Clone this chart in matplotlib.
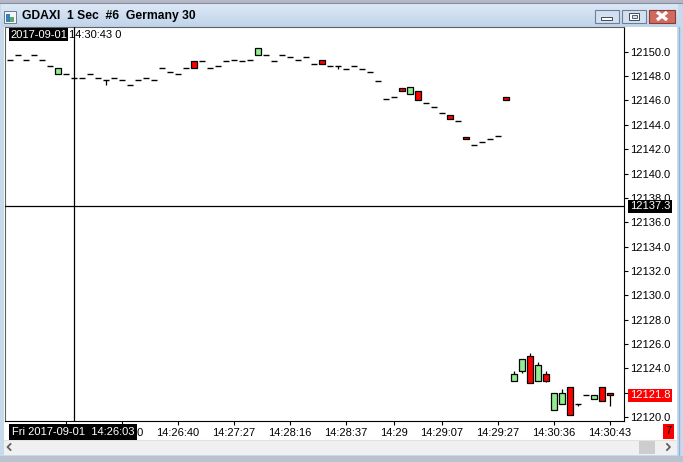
import matplotlib
matplotlib.use("Agg")
import matplotlib.pyplot as plt
from matplotlib.patches import Rectangle
from matplotlib.transforms import blended_transform_factory
from matplotlib.colors import LinearSegmentedColormap
import numpy as np

plt.rcParams['font.family'] = ['Liberation Sans', 'DejaVu Sans']

# ---------------- data (1-second candles) ----------------
opens = [12149.3, 12149.7, 12149.3, 12149.7, 12149.3, 12148.8, 12148.2, 12148.2, 12147.8, 12147.8,
         12148.2, 12147.8, 12147.7, 12147.8, 12147.7, 12147.3, 12147.7, 12147.8, 12147.7, 12148.7,
         12148.3, 12148.2, 12148.7, 12149.2, 12149.2, 12148.7, 12148.8, 12149.2, 12149.3, 12149.2,
         12149.3, 12149.7, 12149.7, 12149.2, 12149.7, 12149.6, 12149.3, 12149.6, 12149.0, 12149.3,
         12148.8, 12148.8, 12148.6, 12148.8, 12148.6, 12148.3, 12147.6, 12146.1, 12146.3, 12147.0,
         12146.5, 12146.8, 12145.8, 12145.5, 12145.0, 12144.8, 12144.3, 12143.0, 12142.3, 12142.6,
         12142.8, 12143.1, 12146.3, 12123.0, 12123.8, 12125.0, 12123.0, 12123.5, 12120.6, 12121.1,
         12122.5, 12121.1, 12121.8, 12121.5, 12122.5, 12122.0]
closes = [12149.3, 12149.7, 12149.3, 12149.7, 12149.3, 12148.8, 12148.7, 12148.2, 12147.8, 12147.8,
          12148.2, 12147.8, 12147.7, 12147.8, 12147.7, 12147.3, 12147.7, 12147.8, 12147.7, 12148.7,
          12148.3, 12148.2, 12148.7, 12148.7, 12149.2, 12148.7, 12148.8, 12149.2, 12149.3, 12149.2,
          12149.3, 12150.3, 12149.7, 12149.2, 12149.7, 12149.6, 12149.3, 12149.6, 12149.0, 12149.0,
          12148.8, 12148.8, 12148.6, 12148.8, 12148.6, 12148.3, 12147.6, 12146.1, 12146.3, 12146.8,
          12147.1, 12146.0, 12145.8, 12145.5, 12145.0, 12144.5, 12144.3, 12142.8, 12142.3, 12142.6,
          12142.8, 12143.1, 12146.0, 12123.5, 12124.8, 12122.8, 12124.3, 12123.0, 12122.0, 12122.0,
          12120.2, 12121.1, 12121.8, 12121.8, 12121.3, 12121.8]
highs = [max(o, c) for o, c in zip(opens, closes)]
lows = [min(o, c) for o, c in zip(opens, closes)]
# explicit wicks
high_overrides = {63: 12123.8, 65: 12125.3, 66: 12124.5, 67: 12123.8, 69: 12122.3}
low_overrides = {12: 12147.3, 41: 12148.6, 64: 12123.6, 67: 12122.9, 71: 12120.9, 75: 12120.9}
for k, v in high_overrides.items():
    highs[k] = v
for k, v in low_overrides.items():
    lows[k] = v

xtick_pos = [7, 14, 21, 28, 35, 42, 48, 54, 61, 68, 75]
xtick_labels = ["", "14:26:10", "14:26:40", "14:27:27", "14:28:16", "14:28:37",
                "14:29", "14:29:07", "14:29:27", "14:30:36", "14:30:43"]
price_ticks = [12120 + 2 * k for k in range(16)]
crosshair_index = 8
crosshair_price = 12137.3
last_price = 12121.8

# ---------------- figure & window chrome ----------------
W, H = 683, 462
fig = plt.figure(figsize=(W / 100, H / 100), dpi=100)
bg = fig.add_axes([0, 0, 1, 1])
bg.set_xlim(0, W)
bg.set_ylim(H, 0)
bg.axis('off')

FONT = 8

# outer frame
bg.add_patch(Rectangle((0, 0), W, H, fc='#c9d9ec', ec='none'))
bg.add_patch(Rectangle((0, 0), W, 3, fc='#b7b7c4', ec='none'))
bg.plot([0, W], [3, 3], color='#8090a8', lw=0.8)
# title bar gradient
grad = np.linspace(0, 1, 50).reshape(-1, 1)
cm = LinearSegmentedColormap.from_list('tb', ['#dfeaf7', '#bfd3ea'])
bg.imshow(grad, cmap=cm, extent=[1, 678, 27, 3.5], aspect='auto', zorder=1)
# app icon
bg.add_patch(Rectangle((4, 11), 12, 12, fc='#f4f4f4', ec='#6a7a90', lw=0.7, zorder=2))
bg.add_patch(Rectangle((5.5, 14), 4, 8, fc='#3b7fb8', ec='none', zorder=3))
bg.add_patch(Rectangle((9.5, 17), 4, 5, fc='#5aa86a', ec='none', zorder=3))
bg.text(22, 16, "GDAXI  1 Sec  #6  Germany 30", fontsize=8.7, fontweight='bold',
        va='center', ha='left', color='black', zorder=3)
# buttons
for x0, fc, ec in [(595, '#d3e0f0', '#6c7f99'), (622, '#d3e0f0', '#6c7f99'), (649, '#d06a5e', '#8a3a33')]:
    bg.add_patch(Rectangle((x0, 9.5), 24 if x0 != 649 else 26, 13, fc=fc, ec=ec, lw=0.8, zorder=3))
bg.add_patch(Rectangle((601, 16.5), 11, 3, fc='white', ec='#404a58', lw=0.7, zorder=4))
bg.add_patch(Rectangle((629, 12.5), 10, 7, fc='white', ec='#404a58', lw=0.7, zorder=4))
bg.add_patch(Rectangle((631.5, 14.5), 5, 3, fc='#d3e0f0', ec='#404a58', lw=0.6, zorder=5))
bg.plot([657, 667], [12, 20], color='white', lw=2.4, zorder=4, solid_capstyle='butt')
bg.plot([657, 667], [20, 12], color='white', lw=2.4, zorder=4, solid_capstyle='butt')

# client area
bg.add_patch(Rectangle((4, 27), 673, 413, fc='white', ec='none', zorder=1))
bg.add_patch(Rectangle((4, 440), 673, 15, fc='#f0f0f0', ec='none', zorder=1))
bg.plot([4, 677], [440, 440], color='#e2e2e2', lw=0.8, zorder=2)
bg.plot([10.5, 7.5, 10.5], [444, 447, 450], color='#606060', lw=1.3, zorder=2)
bg.plot([667, 670, 667], [444, 447, 450], color='#606060', lw=1.3, zorder=2)
bg.add_patch(Rectangle((639, 441), 16, 13, fc='#cdcdcd', ec='none', zorder=2))
bg.plot([678.5, 678.5], [27, 455], color='#8fb4db', lw=1.0, zorder=2)
bg.add_patch(Rectangle((0, 456), W, 6, fc='#b9c3cf', ec='none', zorder=1))

# ---------------- chart axes ----------------
px_l, px_r, px_t, px_b = 5, 624, 27, 421
ax = fig.add_axes([px_l / W, 1 - px_b / H, (px_r - px_l) / W, (px_b - px_t) / H])
ax.set_facecolor('white')
ppu = 12.18  # pixels per price unit (matches the reference scale)
y_top = 12150 + (51.7 - px_t) / ppu
y_bot = 12150 - (px_b - 51.7) / ppu
ax.set_ylim(y_bot, y_top)
ax.set_xlim((px_l - 10) / 8, (px_r - 10) / 8)

for s in ['left', 'top']:
    ax.spines[s].set_color('#606060')
    ax.spines[s].set_linewidth(0.8)
for s in ['right', 'bottom']:
    ax.spines[s].set_color('black')
    ax.spines[s].set_linewidth(0.8)

ax.yaxis.tick_right()
ax.set_yticks(price_ticks)
ax.set_yticklabels([f"{p:.1f}" for p in price_ticks])
ax.tick_params(axis='y', which='both', direction='out', length=3, width=0.8,
               pad=1.5, labelsize=FONT, colors='black', left=False)
ax.set_xticks(xtick_pos)
ax.set_xticklabels(xtick_labels)
ax.tick_params(axis='x', direction='out', length=3, width=0.8, pad=2,
               labelsize=FONT, colors='black')

idx = np.arange(len(opens))
# wicks
for i in idx:
    o, c, h, l = opens[i], closes[i], highs[i], lows[i]
    if h > max(o, c) or l < min(o, c):
        ax.vlines(i, l, h, color='black', lw=0.9, zorder=2)
# bodies / dashes
for i in idx:
    o, c = opens[i], closes[i]
    if abs(o - c) < 1e-9:
        ax.hlines(o, i - 0.42, i + 0.42, color='black', lw=1.0, zorder=3)
    else:
        fc = '#90ee90' if c > o else '#ff0000'
        ax.add_patch(Rectangle((i - 0.38, min(o, c)), 0.76, abs(c - o),
                               fc=fc, ec='black', lw=0.9, zorder=3))

# crosshair
ax.axvline(crosshair_index, color='black', lw=0.9, zorder=4)
ax.axhline(crosshair_price, color='black', lw=0.9, zorder=4)

# price labels on the axis
tr = blended_transform_factory(ax.transAxes, ax.transData)
xl = (630 - px_l) / (px_r - px_l)
ax.text(xl, crosshair_price, f"{crosshair_price:.1f}", transform=tr, ha='left', va='center',
        fontsize=FONT, color='white', zorder=10, clip_on=False,
        bbox=dict(boxstyle='square,pad=0.15', fc='black', ec='none'))
ax.text(xl, last_price, f"{last_price:.1f}", transform=tr, ha='left', va='center',
        fontsize=FONT, color='white', zorder=10, clip_on=False,
        bbox=dict(boxstyle='square,pad=0.15', fc='#ff0000', ec='none'))

# overlay labels (top-left info, crosshair time, tick counter)
ov = fig.add_axes([0, 0, 1, 1], zorder=5)
ov.set_xlim(0, W)
ov.set_ylim(H, 0)
ov.axis('off')
ov.patch.set_alpha(0)
ov.text(10, 34.5, "2017-09-01", fontsize=FONT, color='white', ha='left', va='center',
        bbox=dict(boxstyle='square,pad=0.1', fc='black', ec='none'))
ov.text(69, 34.5, "14:30:43 0", fontsize=FONT, color='black', ha='left', va='center')
ov.text(12, 432, "Fri 2017-09-01  14:26:03", fontsize=FONT, color='white', ha='left', va='center',
        bbox=dict(boxstyle='square,pad=0.25', fc='black', ec='none'))
ov.text(668.5, 431.5, "7", fontsize=FONT, color='black', ha='center', va='center',
        bbox=dict(boxstyle='square,pad=0.2', fc='#ff0000', ec='none'))

fig.savefig("out.png", dpi=100)
